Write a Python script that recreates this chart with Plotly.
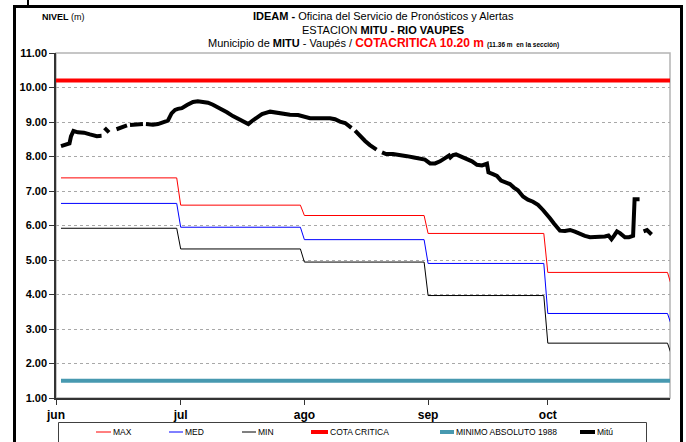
import pandas as pd
import plotly.graph_objects as go

# ---------------------------------------------------------------- data
meses = ["jun", "jul", "ago", "sep", "oct"]
inicio_mes = ["2021-06-01", "2021-07-01", "2021-08-01", "2021-09-01",
              "2021-10-01", "2021-11-01"]

# monthly reference levels (jun .. nov)
nivel_max = [7.38, 6.59, 6.29, 5.77, 4.64, 4.25]
nivel_med = [6.64, 5.95, 5.59, 4.90, 3.45, 3.10]
nivel_min = [5.92, 5.32, 4.94, 3.97, 2.59, 2.25]

cota_critica = 10.20
minimo_absoluto_1988 = 1.50

# observed level at Mitú (None = no reading)
mitu_fecha = [
    "2021-06-01 00:00", "2021-06-02 12:00", "2021-06-03 03:00", "2021-06-03 12:00",
    "2021-06-04 03:00", "2021-06-05 06:00", "2021-06-06 18:00", "2021-06-08 06:00",
    "2021-06-10 00:00", "2021-06-11 04:00", "2021-06-11 12:00",
    "2021-06-11 22:00", "2021-06-13 01:00", "2021-06-13 12:00",
    "2021-06-14 22:00", "2021-06-16 07:00", "2021-06-17 13:00", "2021-06-17 19:00",
    "2021-06-18 07:00", "2021-06-20 07:00", "2021-06-21 13:00", "2021-06-21 20:00",
    "2021-06-22 07:00", "2021-06-24 01:00", "2021-06-25 07:00", "2021-06-26 13:00",
    "2021-06-27 19:00", "2021-06-28 17:00", "2021-06-29 14:00", "2021-06-30 07:00",
    "2021-07-01 07:00", "2021-07-02 14:00", "2021-07-04 02:00", "2021-07-05 07:00",
    "2021-07-06 14:00", "2021-07-07 20:00", "2021-07-09 02:00", "2021-07-10 20:00",
    "2021-07-12 14:00", "2021-07-14 02:00", "2021-07-15 21:00", "2021-07-17 03:00",
    "2021-07-17 23:00", "2021-07-18 21:00", "2021-07-19 21:00", "2021-07-21 09:00",
    "2021-07-23 10:00", "2021-07-24 22:00", "2021-07-26 03:00", "2021-07-28 09:00",
    "2021-07-30 10:00", "2021-07-31 22:00", "2021-08-02 10:00", "2021-08-04 22:00",
    "2021-08-07 10:00", "2021-08-08 16:00", "2021-08-09 22:00", "2021-08-11 05:00",
    "2021-08-12 05:00", "2021-08-12 19:00", "2021-08-13 05:00",
    "2021-08-13 17:00", "2021-08-14 23:00", "2021-08-16 05:00", "2021-08-17 10:00",
    "2021-08-19 02:00", "2021-08-19 12:00",
    "2021-08-20 11:00", "2021-08-21 11:00", "2021-08-23 05:00", "2021-08-24 23:00",
    "2021-08-26 17:00", "2021-08-28 11:00", "2021-08-29 23:00", "2021-08-31 05:00",
    "2021-09-01 12:00", "2021-09-02 18:00", "2021-09-04 00:00", "2021-09-05 00:00",
    "2021-09-05 18:00", "2021-09-06 06:00", "2021-09-06 14:00", "2021-09-07 06:00",
    "2021-09-08 00:00", "2021-09-09 06:00", "2021-09-10 18:00", "2021-09-12 00:00",
    "2021-09-13 06:00", "2021-09-14 12:00", "2021-09-15 18:00", "2021-09-16 03:00",
    "2021-09-17 06:00", "2021-09-18 06:00", "2021-09-19 07:00", "2021-09-20 13:00",
    "2021-09-21 12:00", "2021-09-22 12:00", "2021-09-23 12:00", "2021-09-24 19:00",
    "2021-09-26 00:00", "2021-09-27 07:00", "2021-09-28 13:00", "2021-09-29 19:00",
    "2021-09-30 19:00", "2021-10-01 13:00", "2021-10-02 13:00", "2021-10-03 07:00",
    "2021-10-04 01:00", "2021-10-05 07:00", "2021-10-06 14:00", "2021-10-07 19:00",
    "2021-10-09 02:00", "2021-10-10 07:00", "2021-10-11 14:00", "2021-10-12 20:00",
    "2021-10-14 02:00", "2021-10-15 07:00", "2021-10-16 05:00", "2021-10-16 23:00",
    "2021-10-17 14:00", "2021-10-18 08:00", "2021-10-19 02:00", "2021-10-20 08:00",
    "2021-10-21 08:00", "2021-10-22 09:00", "2021-10-22 18:00", "2021-10-24 00:00",
    "2021-10-24 12:00",
    "2021-10-25 00:00", "2021-10-25 21:00", "2021-10-27 00:00",
]
mitu_nivel = [
    8.30, 8.34, 8.38, 8.58,
    8.74, 8.70, 8.69, 8.64,
    8.59, 8.60, None,
    8.83, 8.70, None,
    8.79, 8.86, 8.90, None,
    8.91, 8.93, 8.94, None,
    8.94, 8.92, 8.94, 8.98,
    9.04, 9.25, 9.35, 9.38,
    9.40, 9.49, 9.58, 9.60,
    9.59, 9.56, 9.50, 9.40,
    9.28, 9.17, 9.05, 8.97,
    8.94, 9.03, 9.12, 9.23,
    9.30, 9.27, 9.23, 9.21,
    9.20, 9.14, 9.11, 9.11,
    9.11, 9.08, 9.01, 8.97,
    8.88, 8.83, None,
    8.75, 8.58, 8.45, 8.33,
    8.20, None,
    8.12, 8.07, 8.07, 8.05,
    8.01, 7.97, 7.95, 7.91,
    7.80, 7.80, 7.86, 7.93,
    8.00, 8.03, 7.97, 8.04,
    8.06, 8.00, 7.92, 7.86,
    7.76, 7.74, 7.79, 7.54,
    7.49, 7.44, 7.30, 7.23,
    7.20, 7.10, 7.02, 6.84,
    6.75, 6.69, 6.60, 6.45,
    6.33, 6.21, 6.06, 5.95,
    5.85, 5.84, 5.87, 5.82,
    5.75, 5.70, 5.66, 5.66,
    5.66, 5.68, 5.71, 5.60,
    5.70, 5.83, 5.78, 5.66,
    5.66, 5.70, 6.76, 6.76,
    None,
    5.83, 5.87, 5.74,
]

# ---------------------------------------------------------------- helpers
FIG_W, FIG_H = 686, 442
M_L, M_R, M_T, M_B = 56, 16, 53, 44
PW, PH = FIG_W - M_L - M_R, FIG_H - M_T - M_B
X_RANGE = ["2021-05-30 18:00", "2021-10-31 15:00"]

NARROW = "Liberation Sans Narrow, Arial Narrow, Liberation Sans, Arial, sans-serif"
SANS = "Liberation Sans, Arial, sans-serif"


def px(x):
    return (x - M_L) / PW


def py(y):
    return (FIG_H - M_B - y) / PH


def serie_mensual(valores):
    """Daily series holding each month's value, ending on the first day of the next month."""
    fechas, niveles = [], []
    for i in range(len(inicio_mes) - 1):
        dias = pd.date_range(inicio_mes[i], pd.Timestamp(inicio_mes[i + 1]) - pd.Timedelta(days=1))
        fechas += list(dias)
        niveles += [valores[i]] * len(dias)
    fechas.append(pd.Timestamp(inicio_mes[-1]))
    niveles.append(valores[-1])
    return fechas, niveles


fig = go.Figure()

for valores, color in [(nivel_max, "#ff0000"), (nivel_med, "#0000ff"), (nivel_min, "#000000")]:
    fx, fy = serie_mensual(valores)
    fig.add_trace(go.Scatter(x=fx, y=fy, mode="lines",
                             line=dict(color=color, width=1), hoverinfo="skip"))

fig.add_trace(go.Scatter(x=X_RANGE, y=[cota_critica] * 2, mode="lines",
                         line=dict(color="#ff0000", width=4), hoverinfo="skip"))
fig.add_trace(go.Scatter(x=[inicio_mes[0], X_RANGE[1]], y=[minimo_absoluto_1988] * 2,
                         mode="lines", line=dict(color="#4799b0", width=4), hoverinfo="skip"))
fig.add_trace(go.Scatter(x=mitu_fecha, y=mitu_nivel, mode="lines", connectgaps=False,
                         line=dict(color="#000000", width=4), hoverinfo="skip"))

# ---------------------------------------------------------------- frames
shapes = [
    # plot area border
    dict(type="rect", xref="paper", yref="paper", x0=0, x1=1, y0=0, y1=1,
         line=dict(color="#b4b4b4", width=1.5), layer="below"),
    # outer chart frame
    dict(type="rect", xref="paper", yref="paper", x0=px(14.5), x1=px(681.5),
         y0=py(470), y1=py(6.5), line=dict(color="#000000", width=3)),
    dict(type="line", xref="paper", yref="paper", x0=px(28), x1=px(28),
         y0=py(0), y1=py(6), line=dict(color="#000000", width=2)),
    # legend box
    dict(type="rect", xref="paper", yref="paper", x0=px(58.5), x1=px(646.5),
         y0=py(470), y1=py(422.5), line=dict(color="#404040", width=1)),
]

leyenda = [
    ("MAX", "#ff0000", 1, 96, 111),
    ("MED", "#0000ff", 1, 169, 183),
    ("MIN", "#000000", 1, 242, 256),
    ("COTA CRITICA", "#ff0000", 4, 311, 328),
    ("MINIMO ABSOLUTO 1988", "#4799b0", 4, 440, 454),
    ("Mitú", "#000000", 4, 580, 595),
]
annotations = []
for texto, color, ancho, xa, xb in leyenda:
    shapes.append(dict(type="line", xref="paper", yref="paper", x0=px(xa), x1=px(xb),
                       y0=py(432), y1=py(432), line=dict(color=color, width=ancho)))
    annotations.append(dict(xref="paper", yref="paper", x=px(xb), y=py(432),
                            xanchor="left", yanchor="middle", showarrow=False,
                            text=texto, font=dict(family=NARROW, size=8.5, color="#000")))

# ---------------------------------------------------------------- titles
titulo = [
    ("<b>IDEAM -</b> Oficina del Servicio de Pronósticos y Alertas", 16),
    ("ESTACION <b>MITU - RIO VAUPES</b>", 30),
    ("Municipio de <b>MITU</b> - Vaupés / "
     "<span style='color:#ff0000;font-size:12px'><b>COTACRITICA 10.20 m</b></span> "
     "<span style='font-size:6.5px'><b>(11.36 m  en la sección)</b></span>", 43),
]
for texto, y in titulo:
    annotations.append(dict(xref="paper", yref="paper", x=px(383), y=py(y),
                            xanchor="center", yanchor="middle", showarrow=False,
                            text=texto, font=dict(family=NARROW, size=11, color="#000")))
annotations.append(dict(xref="paper", yref="paper", x=px(40), y=py(17),
                        xanchor="left", yanchor="middle", showarrow=False,
                        text="<b>NIVEL</b> (m)", font=dict(family=NARROW, size=9, color="#000")))

fig.update_layout(
    width=FIG_W, height=FIG_H,
    margin=dict(l=M_L, r=M_R, t=M_T, b=M_B),
    paper_bgcolor="#ffffff", plot_bgcolor="#ffffff",
    showlegend=False,
    shapes=shapes, annotations=annotations,
    xaxis=dict(type="date", range=X_RANGE,
               tickvals=[X_RANGE[0]] + inicio_mes[1:5], ticktext=meses,
               ticks="outside", ticklen=5, tickcolor="#333", showgrid=False,
               showline=True, linecolor="#333", linewidth=1.5, zeroline=False,
               tickfont=dict(family=SANS, size=12, color="#000", weight="bold")),
    yaxis=dict(range=[1, 11], tick0=1, dtick=1, tickformat=".2f",
               ticks="outside", ticklen=5, tickcolor="#333",
               showgrid=True, gridcolor="#a8a8a8", gridwidth=1, griddash="dot",
               showline=True, linecolor="#333", linewidth=1.5, zeroline=False,
               tickfont=dict(family=SANS, size=11, color="#000", weight="bold")),
)

fig.write_html("out.html")
